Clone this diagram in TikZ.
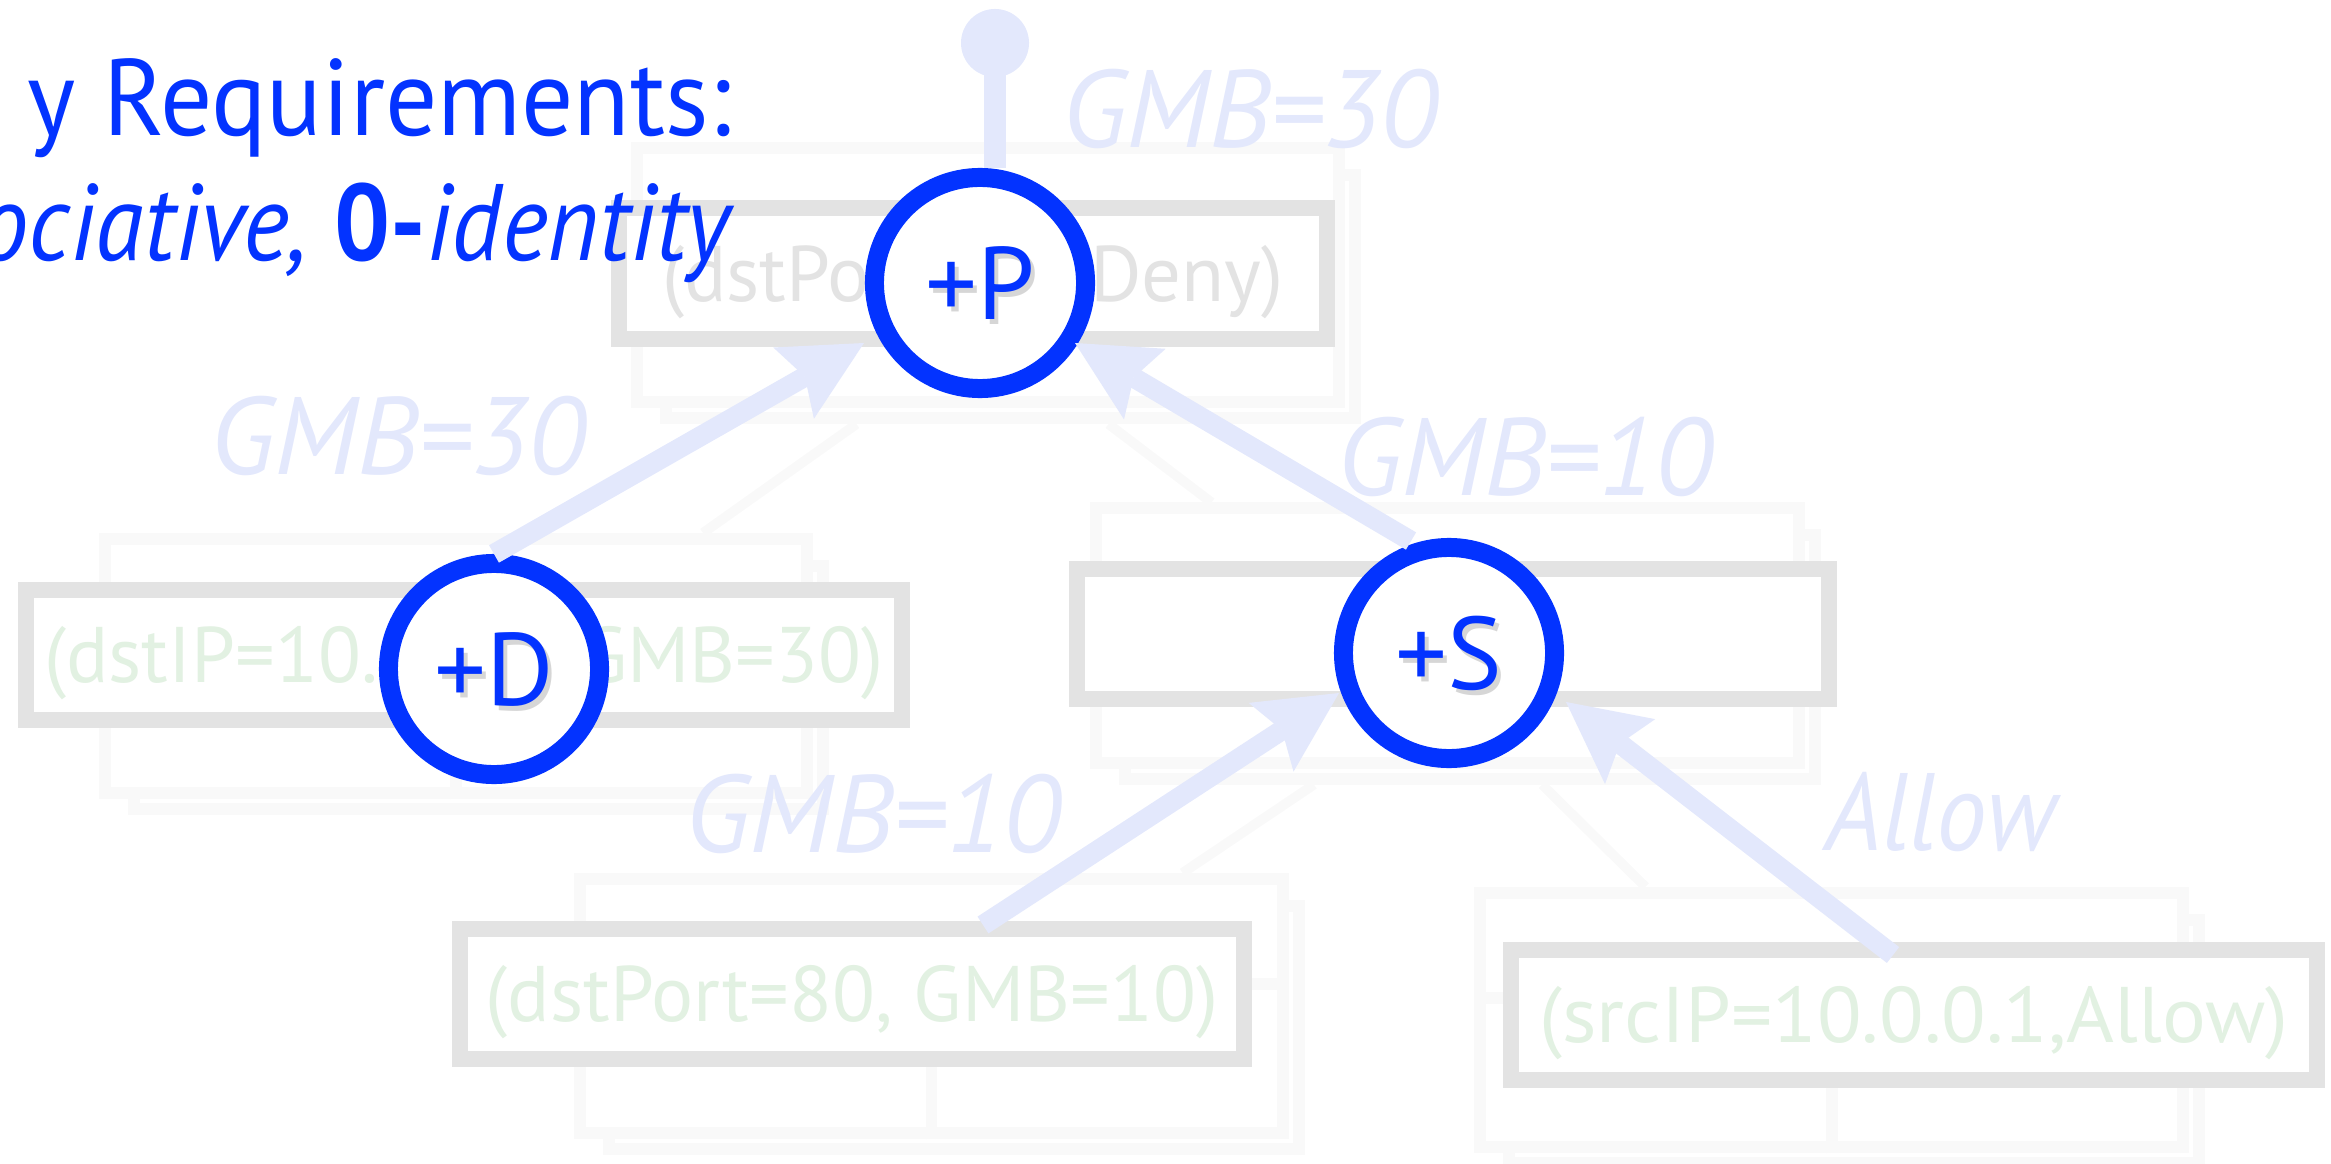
\documentclass[tikz,border=0pt]{standalone}
\usepackage{fontspec}
\setmainfont{PT Sans}
\usetikzlibrary{arrows.meta,calc}
\definecolor{opblue}{RGB}{3,51,255}
\definecolor{edgeblue}{RGB}{227,232,252}
\definecolor{boxgray}{RGB}{227,227,227}
\definecolor{valgreen}{RGB}{226,241,226}
\definecolor{cardgray}{RGB}{249,249,249}
\begin{document}
\begin{tikzpicture}[x=0.01cm, y=-0.01cm,
  card/.style={draw=cardgray, line width=3.4pt, fill=white, inner sep=0pt,
    minimum width=7.02cm, minimum height=2.54cm},
  cardback/.style={card, minimum width=6.89cm, minimum height=2.43cm},
  cardline/.style={draw=cardgray, line width=3.4pt},
  treeline/.style={draw=cardgray, line width=2.8pt},
  valbox/.style={draw=boxgray, line width=4.55pt, fill=white, inner sep=0pt,
    minimum height=1.30cm, text height=0.55cm, text depth=0pt,
    font=\fontsize{22.4}{26}\selectfont},
  op/.style={circle, draw=opblue, line width=5.4pt, fill=white,
    minimum size=2.11cm, inner sep=0pt},
  oplabel/.style={text=opblue, inner sep=0pt, text height=0.72cm, text depth=0pt,
    font=\fontsize{29.3}{34}\selectfont},
  opshadow/.style={oplabel, text=black, text opacity=0.16},
  flow/.style={draw=edgeblue, line width=5.7pt,
    -{Stealth[length=0.81cm, width=0.82cm, inset=0.13cm, line width=0pt]}},
  stem/.style={draw=edgeblue, line width=6.26pt},
  weight/.style={text=edgeblue, anchor=base, inner sep=0pt,
    font=\fontsize{31.3}{36}\selectfont\itshape},
  heading/.style={text=opblue, anchor=base east, inner sep=0pt,
    font=\fontsize{30.9}{36}\selectfont}
]
\useasboundingbox (0,0) rectangle (2331,1164);
\clip (0,0) rectangle (2331,1164);

% stacked record cards behind each value box
\node[cardback] (pcardb) at (1010.5,296.5) {};
\node[card] (pcard) at (988,275) {};
\node[cardback] (dcardb) at (478.5,687.5) {};
\node[card] (dcard) at (456,666) {};
\node[cardback] (scardb) at (1470,657) {};
\node[card] (scard) at (1447.5,635.5) {};
\node[cardback] (portcardb) at (954,1027.5) {};
\node[card] (portcard) at (931.5,1006) {};
\node[cardback] (srccardb) at (1854,1041.5) {};
\node[card] (srccard) at (1831.5,1020) {};

% inner rulings of the cards
\foreach \c in {pcard,dcard,scard,portcard,srccard}{
  \draw[cardline] ([yshift=0.22cm]\c.west) -- ([yshift=0.22cm]\c.east);
  \draw[cardline] (\c.south) -- ([yshift=0.22cm]\c.center);
}

% faint tree links between the cards
\draw[treeline] ($(pcardb.south)+(-154,0)$) -- ($(dcard.north)+(247,0)$);
\draw[treeline] ($(pcardb.south)+(98,0)$) -- ($(scard.north)+(-236,0)$);
\draw[treeline] ($(scardb.south)+(-156,0)$) -- ($(portcard.north)+(251,0)$);
\draw[treeline] ($(scardb.south)+(72,0)$) -- ($(srccard.north)+(-186,0)$);

% value boxes
\node[valbox, minimum width=7.08cm, text=boxgray] (pval) at (973,273.5) {(dstPort=22, Deny)};
\node[valbox, minimum width=8.76cm, text=valgreen] (dval) at (464,655) {(dstIP=10.0.0.2, GMB=30)};
\node[valbox, minimum width=7.52cm] (sval) at (1453,634) {};
\node[valbox, minimum width=7.84cm, text=valgreen] (portval) at (852,994) {(dstPort=80, GMB=10)};
\node[valbox, minimum width=8.06cm, text=valgreen] (srcval) at (1914,1015) {\scalebox{1.04}[1]{(srcIP=10.0.0.1,Allow)}};

% operator nodes
\node[op] (P) at (980,283) {};
\node[op] (D) at (494,669) {};
\node[op] (S) at (1449,653) {};

% output stem of the root
\node[circle, fill=edgeblue, minimum size=0.68cm, inner sep=0pt] (rootdot) at (995,43) {};
\draw[stem] (rootdot.center) -- (rootdot.center |- P.north);

% weighted flows into the operators
\draw[flow] (D.north) -- ($(P)+(-116,60)$);
\draw[flow] ($(S)+(-38,-112)$) -- ($(P)+(95,60)$);
\draw[flow] ($(portval)+(131,-69)$) -- ($(S)+(-110,40)$);
\draw[flow] ($(srcval)+(-21,-60)$) -- ($(S)+(117,49)$);

% operator labels with a soft drop shadow
\node[opshadow] (Pshadow) at ($(P)+(4,5)$) {+P};
\node[oplabel] (Plabel) at (P) {+P};
\node[opshadow] (Dshadow) at ($(D)+(4,5)$) {+D};
\node[oplabel] (Dlabel) at (D) {+D};
\node[opshadow] (Sshadow) at ($(S)+(4,5)$) {+S};
\node[oplabel] (Slabel) at (S) {+S};

% edge weights
\node[weight] (wroot) at (1250,148) {GMB=30};
\node[weight] (wleft) at (398,475) {GMB=30};
\node[weight] (wright) at (1525,495) {GMB=10};
\node[weight] (wport) at (873,852) {GMB=10};
\node[weight] (wsrc) at (1941,850) {\scalebox{0.92}[1]{Allow}};

% heading
\node[heading] (head1) at (732,136) {\scalebox{0.95}[1]{y Requirements:}};
\node[heading] (head2) at (731,261) {\scalebox{0.91}[1]{\itshape ociative, {\upshape\bfseries 0-}identity}};
\end{tikzpicture}
\end{document}
